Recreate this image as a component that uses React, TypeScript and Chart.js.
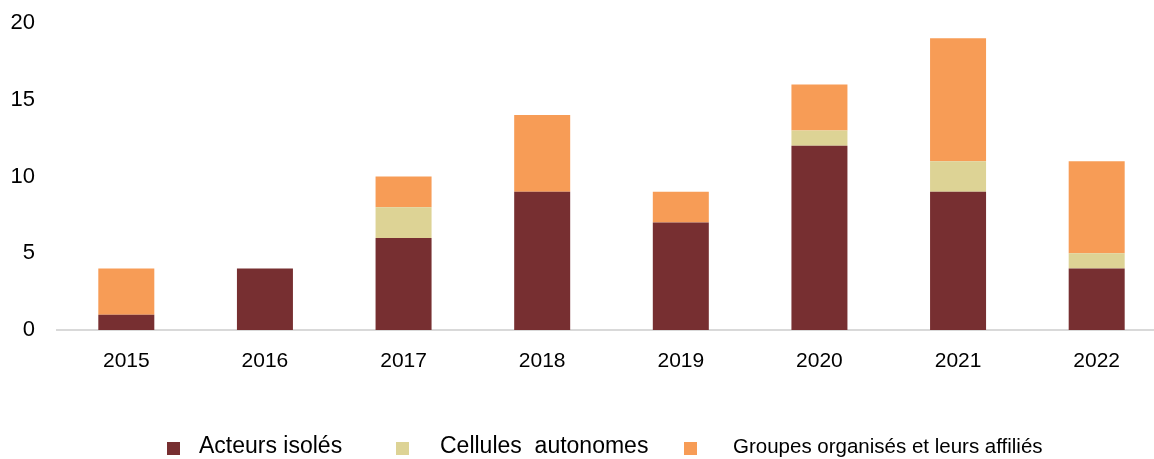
import React, { useEffect, useRef } from "react";
import { Chart, registerables } from "chart.js";

Chart.register(...registerables);

const categories = ["2015", "2016", "2017", "2018", "2019", "2020", "2021", "2022"];
const acteursIsoles = [1, 4, 6, 9, 7, 12, 9, 4];
const cellulesAutonomes = [0, 0, 2, 0, 0, 1, 2, 1];
const groupesOrganises = [3, 0, 2, 5, 2, 3, 8, 6];
const yTicks = [0, 5, 10, 15, 20];

const seriesNames = ["Acteurs isolés", "Cellules  autonomes", "Groupes organisés et leurs affiliés"];
const seriesColors = ["#772F31", "#DDD395", "#F79C56"];

const FONT = "'Liberation Sans', Arial, sans-serif";

export default function App() {
  const canvasRef = useRef<HTMLCanvasElement | null>(null);

  useEffect(() => {
    const canvas = canvasRef.current;
    if (!canvas) return;
    const chart = new Chart(canvas, {
      type: "bar",
      data: {
        labels: categories,
        datasets: [
          { label: seriesNames[0], data: acteursIsoles, backgroundColor: seriesColors[0] },
          { label: seriesNames[1], data: cellulesAutonomes, backgroundColor: seriesColors[1] },
          { label: seriesNames[2], data: groupesOrganises, backgroundColor: seriesColors[2] },
        ],
      },
      options: {
        responsive: false,
        animation: false,
        devicePixelRatio: 1,
        datasets: {
          bar: { barPercentage: 0.404, categoryPercentage: 1 },
        },
        layout: { padding: { top: 23, left: 0, right: 0, bottom: 69 } },
        plugins: {
          legend: { display: false },
          tooltip: { enabled: false },
        },
        scales: {
          x: {
            stacked: true,
            grid: { display: false, drawTicks: true, tickLength: 19 },
            border: { display: true, color: "#D9D9D9", width: 2 },
            ticks: { color: "#000", font: { family: FONT, size: 21 }, padding: 0 },
            afterFit: (scale: any) => {
              scale.height = 60;
            },
          },
          y: {
            stacked: true,
            min: 0,
            max: 20,
            grid: { display: false, drawTicks: true, tickLength: 22 },
            border: { display: false },
            afterBuildTicks: (scale: any) => {
              scale.ticks = yTicks.map((v) => ({ value: v }));
            },
            ticks: { color: "#000", font: { family: FONT, size: 22 }, padding: 0 },
            afterFit: (scale: any) => {
              scale.width = 57;
            },
          },
        },
      },
    });
    return () => chart.destroy();
  }, []);

  const legendItems = [
    { marker: 167, text: 199, size: 23, top: 434 },
    { marker: 396, text: 440, size: 23, top: 434 },
    { marker: 684, text: 733, size: 20.5, top: 435.5 },
  ];

  return (
    <div
      style={{
        position: "fixed",
        left: 0,
        top: 0,
        width: 1154,
        height: 459,
        overflow: "hidden",
        background: "#fff",
      }}
    >
      <canvas ref={canvasRef} width={1166} height={459} style={{ display: "block", width: 1166, height: 459 }} />
      {legendItems.map((it, i) => (
        <React.Fragment key={i}>
          <div
            style={{
              position: "absolute",
              left: it.marker,
              top: 442,
              width: 13,
              height: 13,
              background: seriesColors[i],
            }}
          />
          <div
            style={{
              position: "absolute",
              left: it.text,
              top: it.top,
              fontFamily: FONT,
              fontSize: it.size,
              lineHeight: `${it.size}px`,
              color: "#000",
              whiteSpace: "pre",
            }}
          >
            {seriesNames[i]}
          </div>
        </React.Fragment>
      ))}
    </div>
  );
}
